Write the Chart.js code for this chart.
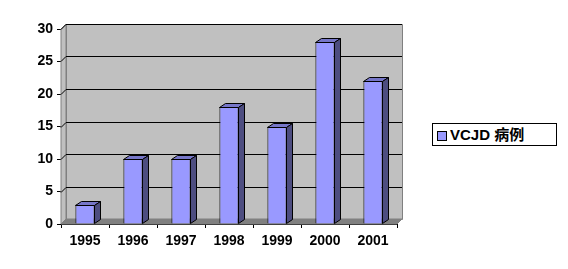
<!DOCTYPE html>
<html>
<head>
<meta charset="utf-8">
<script src="https://cdn.jsdelivr.net/npm/chart.js@4/dist/chart.umd.min.js"></script>
<style>
    body { margin: 0; background: #fff; }
    #wrap { position: relative; width: 568px; height: 269px; }
    #legend {
        position: absolute; left: 432px; top: 123px; width: 123px; height: 21px;
        border: 1px solid #000; background: #fff;
        font: bold 15px "Liberation Sans", Arial, "Noto Sans CJK SC", sans-serif;
        color: #000; line-height: 21px; white-space: nowrap;
    }
    #legend i {
        display: inline-block; width: 8px; height: 8px; background: #9999ff;
        border: 1px solid #000; margin: 0 3px 0 4px; vertical-align: -1px;
    }
</style>
</head>
<body>
<div id="wrap">
    <canvas id="c" width="568" height="269"></canvas>
    <div id="legend"><i></i>VCJD 病例</div>
</div>
<script>
    const years = ['1995', '1996', '1997', '1998', '1999', '2000', '2001'];
    const cases = [3, 10, 10, 18, 15, 28, 22];
    const yTicks = [0, 5, 10, 15, 20, 25, 30];

    // Excel-like 3D look
    const wallFill = '#c0c0c0';
    const wallEdge = '#808080';
    const floorFill = '#808080';
    const barFront = '#9999ff';
    const barTop = '#7676c8';
    const barSide = '#4d4d80';
    const wallDX = 5, wallDY = -5;
    const barDX = 6, barDY = -4;

    const font = { family: '"Liberation Sans", Arial, sans-serif', size: 14, weight: 'bold' };

    const walls = {
        id: 'walls',
        beforeDatasetsDraw(chart) {
            const { ctx, chartArea: a, scales } = chart;
            const y = scales.y;
            ctx.save();
            // side wall
            ctx.fillStyle = wallFill;
            ctx.strokeStyle = wallEdge;
            ctx.lineWidth = 1;
            ctx.beginPath();
            ctx.moveTo(a.left, a.top);
            ctx.lineTo(a.left + wallDX, a.top + wallDY);
            ctx.lineTo(a.left + wallDX, a.bottom + wallDY);
            ctx.lineTo(a.left, a.bottom);
            ctx.closePath();
            ctx.fill();
            ctx.stroke();
            // back wall
            ctx.beginPath();
            ctx.rect(a.left + wallDX + 0.5, a.top + wallDY + 0.5, a.right - a.left, a.bottom - a.top);
            ctx.fill();
            ctx.stroke();
            // floor
            ctx.fillStyle = floorFill;
            ctx.beginPath();
            ctx.moveTo(a.left, a.bottom);
            ctx.lineTo(a.right, a.bottom);
            ctx.lineTo(a.right + wallDX, a.bottom + wallDY);
            ctx.lineTo(a.left + wallDX, a.bottom + wallDY);
            ctx.closePath();
            ctx.fill();
            ctx.stroke();
            // gridlines on side and back wall
            ctx.strokeStyle = '#000';
            yTicks.forEach(v => {
                if (v === 0) return;
                const py = Math.round(y.getPixelForValue(v)) + 0.5;
                ctx.beginPath();
                ctx.moveTo(a.left, py);
                ctx.lineTo(a.left + wallDX, py + wallDY);
                ctx.lineTo(a.right + wallDX, py + wallDY);
                ctx.stroke();
            });
            ctx.restore();
        },
        afterDatasetsDraw(chart) {
            const { ctx } = chart;
            const meta = chart.getDatasetMeta(0);
            ctx.save();
            ctx.strokeStyle = '#000';
            ctx.lineWidth = 1;
            meta.data.forEach(bar => {
                const l = Math.round(bar.x - bar.width / 2) + 0.5;
                const r = Math.round(bar.x + bar.width / 2) - 0.5;
                const t = Math.round(bar.y) + 0.5;
                const b = Math.round(bar.base) - 0.5;
                // top face
                ctx.fillStyle = barTop;
                ctx.beginPath();
                ctx.moveTo(l, t);
                ctx.lineTo(l + barDX, t + barDY);
                ctx.lineTo(r + barDX, t + barDY);
                ctx.lineTo(r, t);
                ctx.closePath();
                ctx.fill();
                ctx.stroke();
                // side face
                ctx.fillStyle = barSide;
                ctx.beginPath();
                ctx.moveTo(r, t);
                ctx.lineTo(r + barDX, t + barDY);
                ctx.lineTo(r + barDX, b + barDY);
                ctx.lineTo(r, b);
                ctx.closePath();
                ctx.fill();
                ctx.stroke();
            });
            ctx.restore();
        }
    };

    new Chart(document.getElementById('c'), {
        type: 'bar',
        data: {
            labels: years,
            datasets: [{
                label: 'VCJD 病例',
                data: cases,
                backgroundColor: barFront,
                borderColor: '#000',
                borderWidth: 1,
                categoryPercentage: 1,
                barPercentage: 0.4
            }]
        },
        options: {
            responsive: false,
            animation: false,
            layout: { padding: { left: 0, right: 171, top: 29, bottom: 0 } },
            scales: {
                x: {
                    grid: { drawOnChartArea: false, drawTicks: true, tickLength: 4, color: '#000', offset: true },
                    border: { display: true, color: '#000' },
                    ticks: { color: '#000', font: font, padding: 5, maxRotation: 0 },
                    afterFit(s) { s.height = 45; }
                },
                y: {
                    min: 0,
                    max: 30,
                    grid: { drawOnChartArea: false, drawTicks: true, tickLength: 4, color: '#000' },
                    border: { display: true, color: '#000' },
                    ticks: {
                        color: '#000', font: font, padding: 4,
                        callback: (v) => yTicks.includes(v) ? v : null,
                        stepSize: 5
                    },
                    afterFit(s) { s.width = 61; }
                }
            },
            plugins: { legend: { display: false }, tooltip: { enabled: false } }
        },
        plugins: [walls]
    });
</script>
</body>
</html>
